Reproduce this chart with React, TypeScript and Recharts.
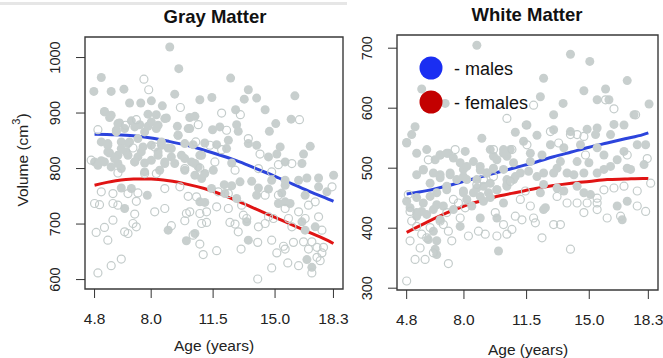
import React from "react";
import { ComposedChart, Scatter, Line, XAxis, YAxis, ReferenceArea } from "recharts";

const FONT = "'Liberation Sans', Arial, Helvetica, sans-serif";
const DOT = "#c8cfce";
const RING = "#c4cccb";
const BLUE = "#2c44dc";
const RED = "#e01414";

const AGE_TICKS = [4.8, 8.0, 11.5, 15.0, 18.3];
const AGE_DOMAIN = [4.26, 18.84];
const GM_TICKS = [600, 700, 800, 900, 1000];
const WM_TICKS = [300, 400, 500, 600, 700];

// fitted curves
const CURVE_AGES = [4.8, 6, 7, 8, 9, 10, 11, 12, 13, 14, 15, 16, 17, 18, 18.3];
const GM_MALE = [862, 861, 859, 855, 849, 842, 833, 823, 812, 799, 786, 772, 758, 745, 741];
const GM_FEMALE = [770, 778, 781, 781, 778, 772, 764, 753, 740, 726, 712, 698, 684, 670, 665];
const WM_MALE = [457, 463, 470, 478, 486, 494, 502, 510, 519, 527, 535, 542, 549, 556, 559];
const WM_FEMALE = [393, 411, 425, 437, 446, 454, 460, 466, 471, 475, 478, 481, 482, 483, 483];

// [age, volume]
const GM_FILLED = [
  [9.05, 1019], [9.56, 980], [5.18, 964], [12.49, 963], [4.76, 939], [5.74, 939], [6.46, 943], [13.49, 942],
  [9.33, 934], [16.12, 931], [10.75, 924], [11.43, 928], [13.26, 925], [13.96, 927], [6.78, 918], [7.41, 918],
  [8.01, 922], [8.63, 913], [5.36, 903], [5.65, 892], [7.82, 898], [8.29, 897], [8.86, 891], [10.18, 892],
  [10.47, 894], [12.77, 906], [14.44, 906], [15.91, 889], [15.04, 881], [6.21, 882], [6.88, 886], [7.35, 879],
  [7.82, 876], [8.39, 878], [9.48, 876], [10.18, 872], [11.47, 870], [11.88, 875], [12.83, 879], [12.92, 867],
  [14.68, 867], [9.52, 860], [6.03, 869], [5.55, 845], [6.31, 848], [6.69, 845], [7.54, 839], [8.01, 842],
  [8.58, 842], [8.96, 837], [10.37, 843], [11.03, 846], [11.7, 843], [12.36, 851], [12.26, 836], [13.49, 845],
  [13.96, 842], [15.29, 839], [16.99, 840], [16.61, 826], [15.1, 826], [14.63, 821], [5.65, 828], [6.12, 824],
  [6.59, 830], [7.25, 821], [8.39, 824], [9.14, 821], [9.9, 818], [10.75, 824], [4.8, 812], [5.18, 814],
  [7.07, 812], [7.63, 810], [9.33, 809], [10.47, 809], [12.55, 810], [15.57, 812], [16.52, 809], [6.12, 809],
  [8.77, 809], [11.51, 797], [10.47, 788], [10.85, 782], [12.13, 771], [12.55, 769], [13.02, 776], [13.68, 777],
  [14.06, 765], [14.81, 779], [15.57, 779], [16.33, 779], [16.8, 783], [17.46, 783], [18.31, 788], [17.46, 767],
  [15.57, 770], [6.31, 765], [6.88, 764], [7.78, 752], [6.5, 728], [8.96, 689], [9.99, 670], [10.47, 683],
  [10.75, 740], [11.03, 739], [12.83, 746], [13.4, 704], [13.49, 671], [15.19, 737], [15.57, 740], [15.85, 737],
  [16.52, 704], [16.7, 689], [17.27, 695], [16.8, 636], [17.08, 622], [14.63, 763], [13.96, 752], [15.38, 756],
  [16.7, 752], [17.93, 758], [11.41, 764], [12.17, 755],
  [5.36, 902], [5.74, 896], [6.12, 881], [6.03, 866], [6.5, 872], [6.78, 848], [7.25, 854], [7.63, 866],
  [8.01, 884], [8.29, 872], [8.77, 890], [8.58, 848], [9.14, 836], [9.52, 860], [9.9, 845], [10.09, 872],
  [5.55, 830], [5.93, 818], [6.31, 836], [6.69, 824], [7.07, 812], [7.44, 830], [8.01, 815], [8.39, 830],
  [8.77, 812], [9.71, 824], [10.28, 812], [10.85, 824], [4.99, 806], [5.36, 812], [5.74, 803], [6.31, 800],
  [7.63, 794], [8.48, 797], [9.9, 797], [10.66, 803], [11.03, 791], [7.07, 875], [5.18, 848], [5.55, 842],
];

const GM_OPEN = [
  [7.59, 961], [7.86, 942], [9.65, 910], [11.98, 900], [13.04, 897], [16.38, 888], [4.99, 870], [7.16, 888],
  [6.55, 878], [10.66, 879], [12.26, 869], [13.49, 854], [10.52, 848], [11.32, 842], [11.98, 834], [14.15, 826],
  [8.2, 839], [6.97, 837], [4.61, 815], [11.6, 812], [15.95, 809], [6.12, 792], [7.63, 791], [8.29, 791],
  [9.9, 800], [10.75, 801], [12.74, 797], [14.06, 800], [14.81, 794], [15.19, 807], [18.22, 767], [5.18, 758],
  [5.84, 755], [6.69, 755], [7.25, 756], [8.77, 764], [9.62, 767], [10.09, 750], [10.56, 749], [11.79, 758],
  [12.36, 755], [13.11, 734], [14.44, 752], [15.19, 752], [4.8, 737], [5.08, 735], [5.84, 737], [6.12, 734],
  [7.16, 741], [8.77, 728], [8.2, 722], [7.07, 718], [9.99, 719], [10.18, 722], [10.75, 719], [11.13, 722],
  [11.7, 731], [12.36, 728], [13.21, 716], [13.4, 710], [14.63, 713], [15.57, 728], [16.33, 722], [16.89, 734],
  [17.27, 740], [17.46, 713], [5.84, 707], [6.97, 701], [7.16, 695], [5.36, 694], [4.89, 685], [6.5, 686],
  [6.69, 683], [5.55, 671], [9.14, 697], [9.9, 706], [10.85, 701], [11.13, 703], [12.45, 703], [12.74, 700],
  [12.92, 686], [14.06, 695], [14.44, 701], [14.91, 710], [15.76, 710], [15.95, 695], [16.7, 710], [17.65, 689],
  [10.37, 680], [10.75, 664], [10.94, 645], [11.7, 652], [13.08, 655], [14.02, 667], [14.81, 671], [15.48, 660],
  [15.1, 648], [15.57, 655], [16.04, 667], [16.61, 668], [17.08, 668], [17.37, 658], [17.74, 658], [16.89, 655],
  [17.65, 648], [17.37, 640], [14.81, 621], [15.72, 630], [16.33, 625], [17.55, 634], [6.31, 637], [5.74, 625],
  [4.99, 612], [14.02, 601], [17.08, 612],
];

const WM_FILLED = [
  [8.72, 705], [13.95, 690], [15.03, 678], [17.12, 646], [12.45, 650], [14.7, 629], [15.91, 632], [15.44, 614],
  [16.1, 614], [5.27, 569], [5.08, 556], [4.8, 543], [5.64, 632], [6.95, 608], [12.27, 619], [13.01, 589],
  [13.54, 608], [18.34, 607], [17.5, 589], [16.38, 573], [16.94, 572], [11.52, 572], [10.87, 560], [9.0, 550],
  [9.47, 531], [10.21, 531], [11.33, 545], [12.08, 555], [13.01, 564], [13.95, 561], [14.88, 565], [15.35, 556],
  [15.44, 567], [16.19, 556], [14.51, 539], [15.44, 534], [13.58, 534], [12.83, 539], [12.36, 522], [11.71, 525],
  [10.4, 520], [9.65, 520], [8.07, 528], [6.67, 522], [7.13, 525], [6.39, 514], [16.94, 528], [17.68, 539],
  [18.15, 539], [15.82, 522], [16.56, 514], [4.8, 445], [5.64, 428], [5.92, 423], [6.29, 431], [6.48, 439],
  [6.85, 437], [7.41, 431], [8.16, 448], [8.44, 437], [8.53, 459], [7.97, 462], [8.72, 467], [9.37, 459],
  [9.84, 464], [10.4, 473], [10.4, 481], [10.87, 486], [11.15, 492], [11.61, 495], [12.08, 486], [12.45, 492],
  [13.01, 492], [13.2, 500], [13.76, 492], [14.14, 489], [14.7, 492], [15.44, 492], [15.82, 498], [16.19, 503],
  [17.12, 500], [17.31, 498], [18.06, 506], [14.98, 509], [14.32, 511], [13.39, 511], [11.71, 511], [10.77, 509],
  [8.91, 503], [7.97, 498], [7.23, 492], [6.67, 489], [6.11, 475], [7.04, 470], [9.09, 445], [9.84, 417],
  [8.91, 417], [7.79, 403], [6.67, 414], [6.29, 395], [6.48, 379], [6.01, 381], [6.39, 365], [6.48, 356],
  [12.45, 431], [12.55, 434], [14.7, 459], [15.07, 456], [16.56, 437], [17.12, 445], [16.84, 414], [9.93, 362],
  [12.27, 459], [13.2, 467], [13.58, 462], [14.32, 470], [12.45, 473], [8.16, 481], [9.28, 492], [10.21, 498],
  [5.36, 489], [5.73, 498], [5.36, 420],
  [4.8, 542], [5.36, 525], [5.92, 531], [6.67, 522], [7.04, 525], [7.41, 517], [7.79, 509], [8.16, 503],
  [8.53, 511], [8.91, 497], [9.28, 492], [9.65, 500], [9.84, 514], [10.21, 525], [10.59, 531], [5.73, 497],
  [6.29, 492], [6.67, 484], [7.23, 489], [7.6, 481], [7.97, 486], [8.72, 481], [9.09, 470], [9.47, 475],
  [9.84, 464], [10.4, 470], [10.77, 481], [5.36, 451], [5.73, 442], [6.11, 453], [6.48, 459], [7.04, 464],
  [7.97, 459], [8.91, 453], [9.47, 451], [10.21, 442], [4.99, 434], [5.36, 426],
];

const WM_OPEN = [
  [11.89, 605], [10.4, 583], [11.48, 572], [12.83, 561], [13.29, 542], [13.95, 556], [14.32, 556], [14.7, 553],
  [16.38, 599], [17.59, 589], [15.91, 614], [10.68, 531], [9.65, 531], [7.51, 531], [6.01, 514], [11.52, 539],
  [18.24, 516], [17.12, 522], [14.79, 522], [4.89, 456], [4.99, 428], [5.08, 412], [5.36, 403], [5.64, 390],
  [5.92, 384], [6.11, 401], [6.67, 412], [6.85, 406], [7.13, 395], [7.32, 379], [7.04, 426], [7.41, 448],
  [7.69, 442], [7.79, 417], [8.25, 387], [8.81, 395], [9.19, 390], [9.84, 387], [9.75, 426], [10.21, 406],
  [10.4, 390], [10.68, 398], [10.87, 420], [11.24, 414], [11.89, 417], [11.99, 409], [12.36, 384], [13.01, 406],
  [13.39, 406], [13.95, 365], [14.7, 426], [15.44, 431], [16.0, 417], [16.75, 420], [17.68, 437], [18.15, 428],
  [13.76, 442], [14.32, 442], [14.88, 442], [15.44, 450], [15.82, 464], [16.38, 467], [16.94, 470], [17.68, 462],
  [18.43, 475], [4.99, 379], [5.55, 367], [5.27, 348], [5.83, 348], [6.29, 359], [7.13, 341], [4.8, 312],
  [8.72, 473], [9.09, 481], [9.65, 486], [10.59, 478], [11.15, 448], [11.43, 462], [13.2, 453], [11.71, 437],
  [8.07, 434], [15.44, 442],
];

const toPts = (arr: number[][]) => arr.map(([age, vol]) => ({ age, vol }));
const toCurve = (vals: number[]) => CURVE_AGES.map((age, i) => ({ age, vol: vals[i] }));

const XTick = (p: any) => (
  <text x={p.x} y={p.y + 18} textAnchor="middle" dominantBaseline="central" fontSize={15.5} fill="#222" fontFamily={FONT}>
    {Number(p.payload.value).toFixed(1)}
  </text>
);

const YTick = (p: any) => {
  const x = p.x - 19;
  return (
    <text x={x} y={p.y} transform={`rotate(-90, ${x}, ${p.y})`} textAnchor="middle" dominantBaseline="central"
      fontSize={14.5} fill="#222" fontFamily={FONT}>
      {p.payload.value}
    </text>
  );
};

const dot = (p: any) => <circle cx={p.cx} cy={p.cy} r={4.5} fill={DOT} />;
const ring = (p: any) => <circle cx={p.cx} cy={p.cy} r={4} fill="none" stroke={RING} strokeWidth={1.2} />;

function Panel({ left, width, margin, yDomain, yTicks, filled, open, male, female }: any) {
  return (
    <div style={{ position: "absolute", left, top: 0 }}>
      <ComposedChart width={width} height={358} margin={margin}>
        <XAxis type="number" dataKey="age" domain={AGE_DOMAIN} ticks={AGE_TICKS} allowDataOverflow
          axisLine={false} tickLine={{ stroke: "#333" }} tickSize={9} height={40} tick={<XTick />} interval={0} />
        <YAxis type="number" dataKey="vol" domain={yDomain} ticks={yTicks} allowDataOverflow
          axisLine={false} tickLine={{ stroke: "#333" }} tickSize={9} width={50} tick={<YTick />} interval={0} />
        <Scatter data={toPts(filled)} shape={dot} isAnimationActive={false} />
        <Scatter data={toPts(open)} shape={ring} isAnimationActive={false} />
        <Line data={toCurve(male)} dataKey="vol" type="monotone" stroke={BLUE} strokeWidth={3} dot={false} isAnimationActive={false} />
        <Line data={toCurve(female)} dataKey="vol" type="monotone" stroke={RED} strokeWidth={3} dot={false} isAnimationActive={false} />
        <ReferenceArea x1={AGE_DOMAIN[0]} x2={AGE_DOMAIN[1]} y1={yDomain[0]} y2={yDomain[1]}
          fill="none" fillOpacity={0} stroke="#3a3a3a" strokeWidth={1.4} ifOverflow="visible" />
      </ComposedChart>
    </div>
  );
}

export default function App() {
  return (
    <div style={{ position: "absolute", left: 0, top: 0, width: 663, height: 358, background: "#fff", fontFamily: FONT }}>
      <Panel left={0} width={353} margin={{ top: 37, right: 10, bottom: 29, left: 35 }}
        yDomain={[583, 1037]} yTicks={GM_TICKS} filled={GM_FILLED} open={GM_OPEN} male={GM_MALE} female={GM_FEMALE} />
      <Panel left={345} width={318} margin={{ top: 35, right: 5, bottom: 28, left: 2 }}
        yDomain={[297, 722]} yTicks={WM_TICKS} filled={WM_FILLED} open={WM_OPEN} male={WM_MALE} female={WM_FEMALE} />
      <svg width={663} height={358} style={{ position: "absolute", left: 0, top: 0, pointerEvents: "none" }}>
        <rect x={0} y={2} width={347} height={3} fill="#e6e6e6" />
        <text x={215} y={16} textAnchor="middle" dominantBaseline="central" fontSize={18.5} fontWeight="bold" fill="#111">Gray Matter</text>
        <text x={527} y={14} textAnchor="middle" dominantBaseline="central" fontSize={18.5} fontWeight="bold" fill="#111">White Matter</text>
        <text x={214} y={345} textAnchor="middle" dominantBaseline="central" fontSize={15.5} fill="#222">Age (years)</text>
        <text x={528} y={349} textAnchor="middle" dominantBaseline="central" fontSize={15.5} fill="#222">Age (years)</text>
        <text x={22} y={160} transform="rotate(-90, 22, 160)" textAnchor="middle" dominantBaseline="central" fontSize={15.5} fill="#222">
          Volume (cm<tspan dy={-6} fontSize={11}>3</tspan><tspan dy={6}>)</tspan>
        </text>
        <circle cx={431} cy={68} r={11.5} fill="#1a2ef2" />
        <text x={454} y={69} dominantBaseline="central" fontSize={18} fill="#111">- males</text>
        <circle cx={431} cy={102} r={11.5} fill="#c30000" />
        <text x={454} y={103} dominantBaseline="central" fontSize={18} fill="#111">- females</text>
      </svg>
    </div>
  );
}
